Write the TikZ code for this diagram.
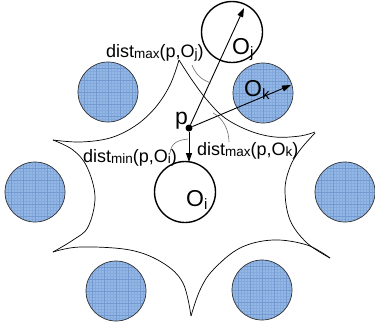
\documentclass[tikz,border=0pt]{standalone}
\usepackage{fontspec}
\setmainfont{Liberation Sans}
\usetikzlibrary{arrows.meta}
\definecolor{diskfill}{HTML}{93B8E6}
\definecolor{diskgrid}{HTML}{84A9DD}
\definecolor{diskgridB}{HTML}{7498D0}
\definecolor{leadergray}{HTML}{6A6A6A}
\newcommand\subtxt[1]{\raisebox{-1.5pt}{\fontsize{13.5}{13.5}\selectfont #1}}
\newcommand\subbig[1]{\raisebox{-3.5pt}{\fontsize{15}{15}\selectfont #1}}
\begin{document}
\begin{tikzpicture}[x=1pt,y=-1pt,
  bluedisk/.style={circle, draw=black!80, line width=0.7pt, minimum size=60pt, inner sep=0pt,
    path picture={
      \fill[diskfill] (path picture bounding box.south west) rectangle (path picture bounding box.north east);
      \draw[diskgrid, line width=0.3pt, step=3pt] (path picture bounding box.south west) grid (path picture bounding box.north east);
      \draw[diskgridB, line width=0.4pt, step=12pt] (path picture bounding box.south west) grid (path picture bounding box.north east);
    }},
  whitedisk/.style={circle, draw=black, line width=1.4pt, minimum size=61pt, inner sep=0pt},
  starline/.style={draw=black, line width=0.7pt},
  leader/.style={draw=leadergray, line width=0.6pt},
  arr/.style={draw=black, line width=0.9pt, -{Triangle[length=9pt,width=6pt]}},
  lab/.style={inner sep=0pt, font=\fontsize{18}{18}\selectfont},
  biglab/.style={inner sep=0pt, font=\fontsize{23}{23}\selectfont}
]
\useasboundingbox (0,0) rectangle (375,325);

% blue obstacles
\node[bluedisk] (b1) at (108,92) {};
\node[bluedisk] (b2) at (35,192) {};
\node[bluedisk] (b3) at (116,291) {};
\node[bluedisk] (b4) at (262,290) {};
\node[bluedisk] (b5) at (345,192) {};
\node[bluedisk] (Ok) at (263,93) {};

% white objects
\node[whitedisk] (Oj) at (232,32) {};
\node[whitedisk] (Oi) at (185,192) {};

% star-shaped region
\draw[starline] plot[smooth,tension=0.6] coordinates {(179,60)(170,85)(155,108)(135,126)(110,138)(80,142)(53,140)};
\draw[starline] plot[smooth,tension=0.6] coordinates {(53,140)(73,150)(87,167)(95,197)(88,227)(73,240)(53,252)};
\draw[starline] plot[smooth,tension=0.6] coordinates {(53,252)(80,247)(130,250)(163,263)(183,283)(191,316)};
\draw[starline] plot[smooth,tension=0.6] coordinates {(191,316)(200,290)(213,270)(240,248)(273,240)(307,245)(330,258)};
\draw[starline] plot[smooth,tension=0.6] coordinates {(330,258)(307,243)(290,220)(285,190)(290,167)(300,150)(315,133)};
\draw[starline] plot[smooth,tension=0.6] coordinates {(315,132)(300,136)(275,137)(250,131)(225,118)(207,100)(192,80)(179,60)};

% point p and arrows
\node[circle, fill=black, minimum size=7pt, inner sep=0pt] (p) at (189,128) {};
\coordinate (tj) at (244,8);
\coordinate (tk) at (291,85);
\coordinate (ti) at (189,162);
\draw[arr] (p) -- (tj);
\draw[arr] (p) -- (tk);
\draw[arr] (p) -- (ti);

% leaders
\draw[leader] (192,65) .. controls (196,75) and (202,80) .. (211,83);
\draw[leader] (213,113) .. controls (223,118) and (229,130) .. (229,142);
\draw[leader] (170,153) .. controls (171,143) and (178,140) .. (188,139);

% labels
\node[lab, anchor=base west] (lj) at (106,57) {dist\subtxt{max}(p,O\subtxt{j})};
\node[lab, anchor=base west] (li) at (83,162) {dist\subtxt{min}(p,O\subtxt{i})};
\node[lab, anchor=base west] (lk) at (197,155) {dist\subtxt{max}(p,O\subtxt{k})};
\node[biglab, anchor=base west] (nj) at (232,54) {O\subbig{j}};
\node[biglab, anchor=base west] (nk) at (244,96) {O\subbig{k}};
\node[biglab, anchor=base west] (ni) at (186,206) {O\subbig{i}};
\node[biglab, anchor=base west] (np) at (175,124) {p};
\end{tikzpicture}
\end{document}
